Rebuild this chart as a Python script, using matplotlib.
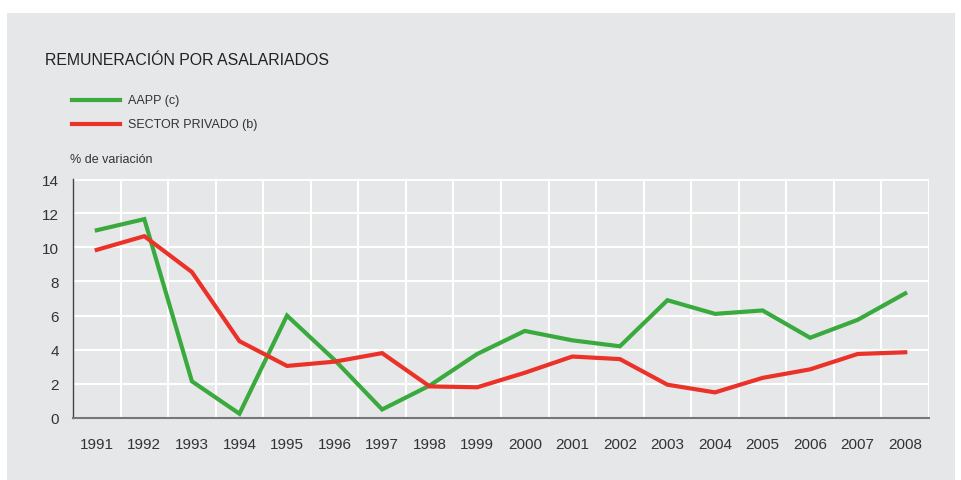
import matplotlib.pyplot as plt
import matplotlib.patches as patches

years = ['1991', '1992', '1993', '1994', '1995', '1996', '1997', '1998', '1999',
         '2000', '2001', '2002', '2003', '2004', '2005', '2006', '2007', '2008']
aapp = [11.0, 11.65, 2.15, 0.25, 6.0, 3.4, 0.5, 1.9, 3.75,
        5.1, 4.55, 4.2, 6.9, 6.1, 6.3, 4.7, 5.75, 7.3]
privado = [9.85, 10.65, 8.55, 4.5, 3.05, 3.3, 3.8, 1.85, 1.8,
           2.65, 3.6, 3.45, 1.95, 1.5, 2.35, 2.85, 3.75, 3.85]

green = '#3aaa3e'
red = '#ea3229'
bg = '#e6e7e8'
txt = '#333333'

plt.rcParams['font.family'] = ['Liberation Sans', 'DejaVu Sans']

fig = plt.figure(figsize=(9.62, 4.81), dpi=100)
fig.patch.set_facecolor('white')
fig.add_artist(patches.Rectangle((7 / 962, 0), 948 / 962, 1 - 14 / 481,
                                 transform=fig.transFigure, facecolor=bg,
                                 edgecolor='none', zorder=-5))

ax = fig.add_axes([73 / 962, 1 - 419 / 481, 856 / 962, 239 / 481])
ax.set_facecolor(bg)

x = list(range(len(years)))
ax.plot(x, aapp, color=green, lw=3, solid_joinstyle='miter', zorder=3)
ax.plot(x, privado, color=red, lw=3, solid_joinstyle='miter', zorder=3)

ax.set_xlim(-0.5, len(years) - 0.5)
ax.set_ylim(0, 14)
ax.set_yticks(range(0, 15, 2))
ax.set_xticks(x)
ax.set_xticklabels(years)
ax.set_xticks([i + 0.5 for i in range(len(years))], minor=True)
ax.grid(False)
ax.grid(True, which='minor', axis='x', color='white', lw=1.5)
ax.grid(True, which='major', axis='y', color='white', lw=1.5)
ax.set_axisbelow(True)

for s in ['top', 'right']:
    ax.spines[s].set_visible(False)
ax.spines['left'].set_color('#444444')
ax.spines['left'].set_linewidth(1)
ax.spines['bottom'].set_color('#777777')
ax.spines['bottom'].set_linewidth(1.5)
ax.spines['bottom'].set_zorder(4)
# white top and right borders as in the original
ax.axhline(14, color='white', lw=2, zorder=1)
ax.axvline(len(years) - 0.5, color='white', lw=2, zorder=1)

ax.tick_params(axis='both', which='both', length=0, labelsize=11, colors=txt)
ax.tick_params(axis='x', pad=14)
ax.tick_params(axis='y', pad=10)

fig.text(45 / 962, 1 - 61 / 481, 'REMUNERACIÓN POR ASALARIADOS', fontsize=11.4,
         color='#222222', va='center', ha='left')

# legend drawn by hand
for i, (lab, col) in enumerate([('AAPP (c)', green), ('SECTOR PRIVADO (b)', red)]):
    yy = 1 - (101 + 24 * i) / 481
    fig.add_artist(plt.Line2D([72 / 962, 120 / 962], [yy, yy], color=col, lw=3,
                              transform=fig.transFigure))
    fig.text(128 / 962, yy, lab, fontsize=9, color=txt, va='center', ha='left')

fig.text(70 / 962, 1 - 160 / 481, '% de variación', fontsize=9, color=txt,
         va='center', ha='left')

fig.savefig('out.png', dpi=100, facecolor=fig.get_facecolor())
